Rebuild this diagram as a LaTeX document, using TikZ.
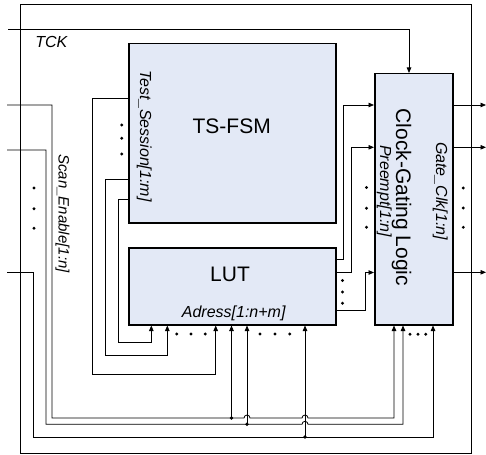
\documentclass[tikz,border=0pt]{standalone}
\usepackage{fontspec}
\setmainfont{Liberation Sans}
\usetikzlibrary{arrows.meta}
\definecolor{boxfill}{RGB}{227,233,246}
\begin{document}
\begin{tikzpicture}[x=1pt,y=-1pt,
  box/.style={draw=black, line width=1.5pt, fill=boxfill, inner sep=0pt, anchor=north west},
  frame/.style={draw=black, line width=1.2pt, inner sep=0pt, anchor=north west},
  wire/.style={line width=0.8pt, draw=black},
  arr/.style={-{Triangle[length=5.5pt,width=4.5pt]}},
  lab/.style={font=\itshape\fontsize{16}{18}\selectfont, inner sep=0pt},
  big/.style={font=\fontsize{21}{24}\selectfont, inner sep=0pt},
]
\useasboundingbox (0,0) rectangle (486,454);

% frame and blocks
\node[frame, minimum width=451pt, minimum height=449pt] (chip) at (20,4) {};
\node[box, minimum width=207pt, minimum height=179pt] (tsfsm) at (128,43) {};
\node[box, minimum width=207pt, minimum height=77pt] (lut) at (128,247) {};
\node[box, minimum width=78pt, minimum height=251pt] (cgl) at (374,73) {};

% labels
\node[big, anchor=base] (tslab) at (231.7,133.3) {TS-FSM};
\node[big, anchor=base] (lutlab) at (230,281.7) {LUT};
\node[lab, anchor=base] (adr) at (233.7,317.3) {Adress[1:n+m]};
\node[lab, anchor=base] (tck) at (51.3,47.7) {TCK};
\node[lab, anchor=base, rotate=-90] (tsl) at (140,136) {Test\_Session[1:m]};
\node[lab, anchor=base, rotate=-90, font=\itshape\fontsize{15}{18}\selectfont] (sel) at (58.5,213.5) {Scan\_Enable[1:n]};
\node[lab, anchor=base, rotate=-90] (pre) at (380,191) {Preempt[1:n]};
\node[lab, anchor=base, rotate=-90] (gcl) at (436,191) {Gate\_Clk[1:n]};
\node[big, anchor=base, rotate=-90] (cgllab) at (396,197.5) {Clock-Gating Logic};

% free ends
\coordinate (tckin) at (8,29.3);
\coordinate (se1in) at (7,105);
\coordinate (se2in) at (7,150);
\coordinate (senin) at (7,272.3);
\coordinate (gc1) at (486,105);
\coordinate (gc2) at (486,147.3);
\coordinate (gcn) at (486,272.3);
\coordinate (j1) at (231.5,418);
\coordinate (j2) at (247,424.3);
\coordinate (j3) at (305,437);

% TCK
\draw[wire,arr] (tckin) -| (cgl.north -| 409,0);

% Scan_Enable
\draw[wire,arr] (se1in) -| (52,418) -- (244,418) arc[start angle=180,end angle=0,radius=3pt]
  -- (302,418) arc[start angle=180,end angle=0,radius=3pt] -| (cgl.south -| 394,0);
\draw[wire,arr] (se2in) -| (46,424.3) -- (302,424.3) arc[start angle=180,end angle=0,radius=3pt]
  -| (cgl.south -| 403,0);
\draw[wire,arr] (senin) -| (33,437) -| (cgl.south -| 433,0);
\draw[wire,arr] (j1) -- (lut.south -| j1);
\draw[wire,arr] (j2) -- (lut.south -| j2);
\draw[wire,arr] (j3) -- (lut.south -| j3);
\foreach \p in {j1,j2,j3} \fill (\p) circle[radius=1.9pt];

% Test_Session
\draw[wire,arr] (tsfsm.west |- 0,98.3) -| (92.7,374.3) -| (lut.south -| 215.7,0);
\draw[wire,arr] (tsfsm.west |- 0,179) -| (105.7,355.3) -| (lut.south -| 167.3,0);
\draw[wire,arr] (tsfsm.west |- 0,199) -| (118.7,342.3) -| (lut.south -| 151.3,0);

% Preempt
\draw[wire,arr] (lut.east |- 0,259.3) -| (343.3,105) -- (cgl.west |- 0,105);
\draw[wire,arr] (lut.east |- 0,272) -| (351.7,147.3) -- (cgl.west |- 0,147.3);
\draw[wire,arr] (lut.east |- 0,310.7) -| (365.5,272.5) -- (cgl.west |- 0,272.5);

% Gate_Clk
\draw[wire,arr] (cgl.east |- gc1) -- (gc1);
\draw[wire,arr] (cgl.east |- gc2) -- (gc2);
\draw[wire,arr] (cgl.east |- gcn) -- (gcn);

% ellipsis dots
\foreach \y in {188,208.7,228.3} \fill (34,\y) circle[radius=1.6pt];
\foreach \y in {125,138.3,154} \fill (121.7,\y) circle[radius=1.6pt];
\foreach \x in {176.7,191,205.3} \fill (\x,334) circle[radius=1.6pt];
\foreach \x in {260,275,289.7} \fill (\x,334) circle[radius=1.6pt];
\foreach \y in {280.5,292,303.3} \fill (342.5,\y) circle[radius=1.6pt];
\foreach \y in {187.5,208.3,227.3} \fill (366.5,\y) circle[radius=1.6pt];
\foreach \y in {188,208,227.3} \fill (463.3,\y) circle[radius=1.6pt];
\foreach \x in {410,418,425.7} \fill (\x,334.3) circle[radius=1.6pt];
\end{tikzpicture}
\end{document}
